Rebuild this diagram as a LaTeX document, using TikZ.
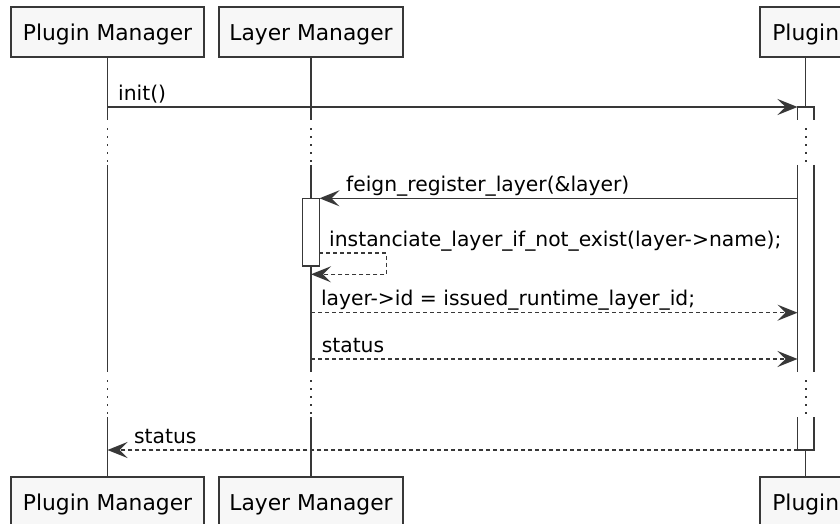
\documentclass[tikz,border=0pt]{standalone}
\usepackage{fontspec}
\setmainfont{DejaVu Sans}
\usetikzlibrary{arrows.meta}
\definecolor{ink}{HTML}{383838}
\definecolor{boxfill}{HTML}{F7F7F7}

\begin{document}
\begin{tikzpicture}[x=1bp, y=-1bp,
  participant/.style={draw=ink, line width=2bp, fill=boxfill, minimum height=50bp,
    inner sep=0pt, text height=17.4bp, text depth=0pt,
    font=\fontsize{21.8bp}{26bp}\selectfont},
  lifeline/.style={draw=ink, line width=1.5bp},
  delaydots/.style={draw=ink, line width=1.6bp, dash pattern=on 1.6bp off 6.4bp},
  actbar/.style={draw=ink, line width=1.5bp, fill=white},
  msg/.style={draw=ink, line width=1.5bp,
    -{Stealth[length=20bp, width=16bp, inset=8bp]}},
  reply/.style={msg, dash pattern=on 4bp off 3bp},
  lbl/.style={anchor=base west, inner sep=0pt, font=\fontsize{20.3bp}{24bp}\selectfont}
]
\useasboundingbox[fill=white] (0,0) rectangle (840,524);

% participants, top and bottom
\node[participant, minimum width=193bp] (pm-top) at (107.5,32) {Plugin Manager};
\node[participant, minimum width=184bp] (lm-top) at (311,32) {Layer Manager};
\node[participant, minimum width=91.4bp] (pl-top) at (805.7,32) {Plugin};
\node[participant, minimum width=193bp] (pm-bot) at (107.5,502) {Plugin Manager};
\node[participant, minimum width=184bp] (lm-bot) at (311,502) {Layer Manager};
\node[participant, minimum width=91.4bp] (pl-bot) at (805.7,502) {Plugin};

% lifelines with two delay sections
\foreach \p in {pm,lm,pl} {
  \draw[lifeline] (\p-top.south) -- (\p-top.south |- 0,120);
  \draw[delaydots] (\p-top.south |- 0,128.5) -- (\p-top.south |- 0,162);
  \draw[lifeline] (\p-top.south |- 0,165) -- (\p-top.south |- 0,372);
  \draw[delaydots] (\p-top.south |- 0,380) -- (\p-top.south |- 0,414);
  \draw[lifeline] (\p-top.south |- 0,417) -- (\p-bot.north);
}

% activation of Plugin, interrupted by the delays
\draw[actbar] (797.5,120) -- (797.5,107) -- (813.9,107) -- (813.9,120);
\fill[white] (797.5,165) rectangle (813.9,372);
\draw[actbar] (797.5,165) -- (797.5,372);
\draw[actbar] (813.9,165) -- (813.9,372);
\draw[actbar] (797.5,417) -- (797.5,450) -- (813.9,450) -- (813.9,417);

% activation of Layer Manager
\draw[actbar] (302.7,198.7) rectangle (319.3,266);

% message end points
\coordinate (pm-init) at (pm-top.south |- 0,107);
\coordinate (pl-init) at (797.5,107);
\coordinate (pl-reg) at (797.5,198.3);
\coordinate (lm-reg) at (319.5,198.3);
\coordinate (lm-self-out) at (319.3,253);
\coordinate (self-turn-a) at (386.7,253);
\coordinate (self-turn-b) at (386.7,274.3);
\coordinate (lm-self-in) at (lm-top.south |- 0,274.3);
\coordinate (lm-id) at (lm-top.south |- 0,312.7);
\coordinate (pl-id) at (797.5,312.7);
\coordinate (lm-status) at (lm-top.south |- 0,359);
\coordinate (pl-status) at (797.5,359);
\coordinate (pl-ret) at (797.5,450);
\coordinate (pm-ret) at (pm-top.south |- 0,450);

% messages
\draw[msg] (pm-init) -- (pl-init);
\draw[msg] (pl-reg) -- (lm-reg);
\draw[reply] (lm-self-out) -- (self-turn-a) -- (self-turn-b) -- (lm-self-in);
\draw[reply] (lm-id) -- (pl-id);
\draw[reply] (lm-status) -- (pl-status);
\draw[reply] (pl-ret) -- (pm-ret);

% message labels
\node[lbl] (l-init) at (118,100.3) {init()};
\node[lbl] (l-reg) at (346,192) {feign\_register\_layer(\&layer)};
\node[lbl] (l-self) at (329,246.5) {instanciate\_layer\_if\_not\_exist(layer->name);};
\node[lbl] (l-id) at (320.8,306) {layer->id = issued\_runtime\_layer\_id;};
\node[lbl] (l-status) at (321.6,352.5) {status};
\node[lbl] (l-ret) at (133.9,443.5) {status};
\end{tikzpicture}
\end{document}
